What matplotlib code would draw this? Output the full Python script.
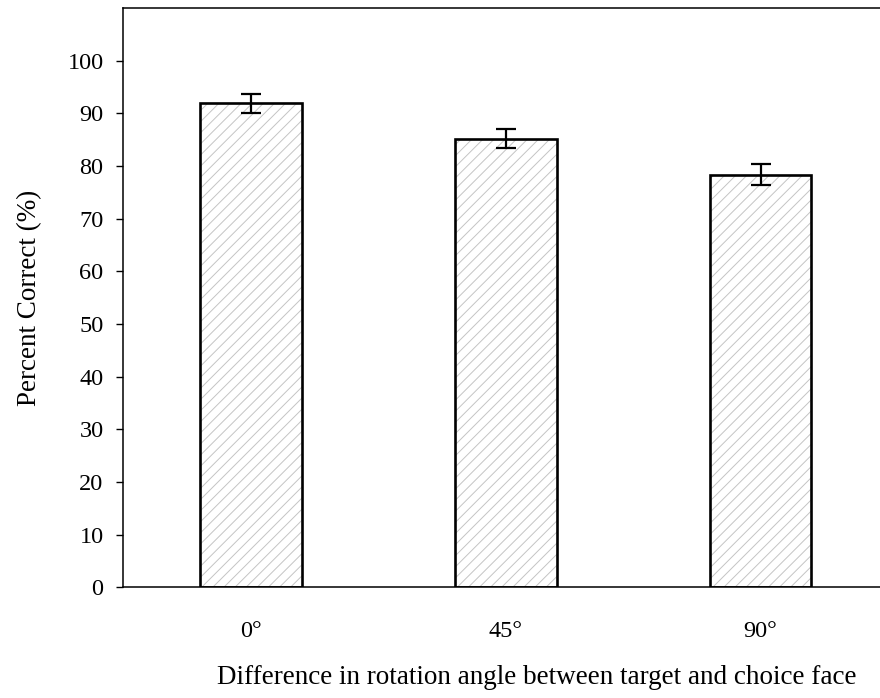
import matplotlib
matplotlib.use("Agg")
from matplotlib import pyplot as plt

angles = ["0°", "45°", "90°"]
percent_correct = [91.9, 85.2, 78.3]
sem = [1.8, 1.85, 2.0]

plt.rcParams['font.family'] = ['Liberation Serif', 'DejaVu Serif']
plt.rcParams['hatch.color'] = '#c4c4c4'
plt.rcParams['hatch.linewidth'] = 0.7

fig = plt.figure(figsize=(8.8, 6.98), dpi=100)
ax = fig.add_axes([0.1398, 0.1586, 0.8602, 0.830])

x = range(len(angles))
# hatched fill first, then a black outline on top
ax.bar(x, percent_correct, width=0.4, color='white', edgecolor='#c4c4c4',
       linewidth=0, hatch='///')
ax.bar(x, percent_correct, width=0.4, fill=False, edgecolor='black',
       linewidth=1.9)
ax.errorbar(x, percent_correct, yerr=sem, fmt='none', ecolor='black',
            elinewidth=1.6, capsize=7, capthick=1.6)

ax.set_xlim(-0.502, 2.469)
ax.set_ylim(0, 110)
ax.set_yticks(range(0, 101, 10))
ax.set_xticks(list(x))
ax.set_xticklabels(angles)
ax.tick_params(axis='y', direction='out', length=5, width=1, labelsize=17.5, pad=9)
ax.tick_params(axis='x', length=0, labelsize=17.5, pad=24)
for side in ['left', 'bottom', 'top']:
    ax.spines[side].set_linewidth(1.1)
ax.spines['right'].set_visible(False)

ax.set_ylabel('Percent Correct (%)', fontsize=19.5, labelpad=18)
ax.set_xlabel('Difference in rotation angle between target and choice face',
              fontsize=19.5, labelpad=17, x=0.547)

plt.savefig('out.png', dpi=100)
